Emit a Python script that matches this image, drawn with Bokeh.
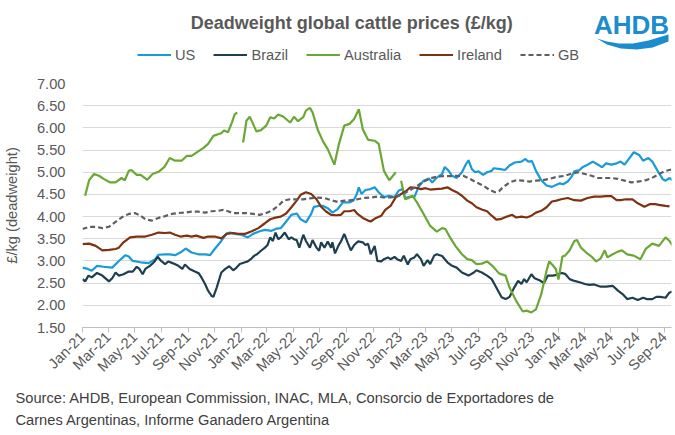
import math
import numpy as np
import pandas as pd
from bokeh.plotting import figure
from bokeh.layouts import column
from bokeh.models import (FixedTicker, DatetimeTickFormatter, PrintfTickFormatter,
                          Legend, LegendItem, Label, PolyAnnotation, Range1d, Title)
from bokeh.embed import file_html
from bokeh.resources import INLINE

# ---------------- data (x = months elapsed since 1 Jan 2021, y = £/kg) ----------------
us_month = [0, 0.4, 0.7, 1.1, 1.6, 2.25, 2.75, 3.25, 3.5, 3.8,
            4.4, 5.0, 5.5, 5.75, 6.25, 6.6, 7.0, 7.4, 7.8, 8.25,
            8.75, 9.3, 9.65, 10.0, 10.5, 10.9, 11.15, 11.5, 12.0, 12.5,
            12.9, 13.4, 13.8, 14.3, 14.7, 15.0, 15.3, 15.8, 16.2, 16.5,
            16.9, 17.3, 17.5, 17.9, 18.2, 18.55, 18.9, 19.3, 19.7, 20.2,
            20.5, 20.75, 20.9, 21.1, 21.4, 21.8, 22.1, 22.4, 22.8, 23.2,
            23.6, 23.9, 24.2, 24.4, 24.8, 25.1, 25.4, 25.8, 26.2, 26.45,
            26.8, 27.2, 27.4, 27.7, 27.95, 28.3, 28.7, 29.0, 29.2, 29.45,
            29.7, 29.95, 30.3, 30.6, 30.95, 31.1, 31.6, 31.95, 32.3, 32.7,
            33.2, 33.5, 33.7, 34.0, 34.3, 34.7, 35.1, 35.5, 35.85, 36.1,
            36.35, 36.7, 37.0, 37.2, 37.6, 37.85, 38.2, 38.6, 39.0, 39.3,
            39.6, 40.0, 40.4, 40.7, 41.0, 41.4, 41.7, 42.1, 42.4, 42.8,
            43.1, 43.5, 43.9, 44.1, 44.4, 44.65]
us_price = [2.85, 2.82, 2.78, 2.89, 2.87, 2.85, 3.00, 3.13, 3.10, 3.00,
            2.97, 2.95, 3.04, 3.14, 3.15, 3.15, 3.13, 3.19, 3.28, 3.19,
            3.15, 3.15, 3.13, 3.27, 3.45, 3.62, 3.64, 3.61, 3.59, 3.53,
            3.61, 3.67, 3.70, 3.68, 3.73, 3.74, 3.85, 4.04, 4.07, 3.94,
            3.87, 4.06, 4.22, 4.24, 4.24, 4.19, 4.09, 4.17, 4.32, 4.32,
            4.36, 4.51, 4.66, 4.51, 4.60, 4.62, 4.66, 4.55, 4.44, 4.47,
            4.44, 4.58, 4.62, 4.42, 4.45, 4.44, 4.66, 4.81, 4.86, 4.77,
            4.88, 4.96, 5.12, 5.03, 4.92, 4.87, 5.00, 5.18, 5.27, 5.07,
            5.00, 5.02, 4.94, 5.00, 5.03, 5.09, 5.07, 5.05, 5.15, 5.22,
            5.24, 5.30, 5.24, 5.25, 5.03, 4.82, 4.70, 4.67, 4.72, 4.75,
            4.73, 4.79, 4.90, 5.02, 5.05, 5.12, 5.17, 5.24, 5.17, 5.11,
            5.20, 5.17, 5.20, 5.24, 5.17, 5.33, 5.45, 5.39, 5.26, 5.32,
            5.24, 5.03, 4.84, 4.81, 4.87, 4.81]

brazil_month = [0, 0.2, 0.45, 0.7, 1.1, 1.5, 2.0, 2.25, 2.5, 2.75,
                3.1, 3.5, 3.8, 4.1, 4.3, 4.55, 4.75, 5.1, 5.4, 5.7,
                5.95, 6.25, 6.5, 6.9, 7.25, 7.55, 7.75, 8.1, 8.5, 8.8,
                9.05, 9.27, 9.5, 9.77, 9.9, 10.15, 10.5, 10.8, 11.1, 11.4,
                11.65, 11.9, 12.3, 12.5, 12.8, 13.0, 13.2, 13.5, 13.8, 14.0,
                14.2, 14.4, 14.6, 14.8, 15.0, 15.3, 15.6, 15.8, 16.0, 16.2,
                16.4, 16.7, 16.9, 17.2, 17.4, 17.7, 17.9, 18.05, 18.3, 18.55,
                18.8, 18.9, 19.1, 19.35, 19.55, 19.8, 20.05, 20.3, 20.55, 20.85,
                21.2, 21.4, 21.6, 21.8, 22.1, 22.3, 22.6, 22.8, 23.1, 23.3,
                23.6, 23.8, 24.1, 24.3, 24.6, 24.8, 25.1, 25.3, 25.6, 25.8,
                26.1, 26.3, 26.6, 26.8, 27.2, 27.6, 27.95, 28.3, 28.7, 29.2,
                29.6, 29.8, 30.2, 30.6, 30.95, 31.3, 31.7, 32.0, 32.3, 32.6,
                32.95, 33.2, 33.4, 33.6, 33.95, 34.2, 34.6, 34.9, 35.2, 35.6,
                36.0, 36.2, 36.5, 36.85, 37.2, 37.6, 38.0, 38.35, 38.7, 39.2,
                39.6, 40.1, 40.5, 40.9, 41.2, 41.6, 42.0, 42.4, 42.7, 43.1,
                43.4, 43.7, 44.1, 44.4, 44.65]
brazil_price = [2.59, 2.54, 2.67, 2.63, 2.73, 2.67, 2.54, 2.61, 2.74, 2.67,
                2.70, 2.76, 2.76, 2.87, 2.82, 2.70, 2.82, 2.89, 2.97, 3.09,
                3.00, 2.93, 2.99, 2.94, 2.89, 2.82, 2.92, 2.82, 2.76, 2.72,
                2.60, 2.48, 2.33, 2.21, 2.19, 2.40, 2.74, 2.82, 2.88, 2.79,
                2.85, 2.93, 2.97, 2.99, 3.06, 3.12, 3.15, 3.23, 3.30, 3.36,
                3.53, 3.45, 3.64, 3.49, 3.53, 3.64, 3.49, 3.53, 3.49, 3.47,
                3.30, 3.59, 3.45, 3.30, 3.47, 3.30, 3.23, 3.42, 3.30, 3.44,
                3.30, 3.42, 3.17, 3.34, 3.44, 3.61, 3.42, 3.24, 3.36, 3.44,
                3.42, 3.36, 3.39, 3.15, 3.34, 3.00, 2.99, 3.04, 3.08, 3.04,
                3.09, 3.04, 3.00, 3.12, 2.92, 3.04, 3.08, 3.15, 3.04, 2.89,
                3.02, 2.93, 3.12, 3.15, 3.11, 2.97, 2.89, 2.85, 2.74, 2.67,
                2.74, 2.79, 2.74, 2.67, 2.59, 2.40, 2.18, 2.14, 2.19, 2.37,
                2.55, 2.48, 2.59, 2.52, 2.70, 2.61, 2.56, 2.50, 2.67, 2.67,
                2.70, 2.73, 2.71, 2.59, 2.55, 2.52, 2.48, 2.46, 2.47, 2.42,
                2.42, 2.44, 2.33, 2.24, 2.14, 2.17, 2.12, 2.17, 2.14, 2.14,
                2.19, 2.19, 2.17, 2.29, 2.31]

# NaN marks the two breaks in the Australian series
australia_month = [0.2, 0.5, 0.875, 1.25, 1.6, 2.1, 2.5, 2.95, 3.2, 3.5,
                   3.7, 4.1, 4.4, 4.9, 5.3, 5.75, 6.2, 6.6, 7.0, 7.5,
                   7.9, 8.25, 8.7, 9.15, 9.5, 9.9, 10.3, 10.5, 10.7, 11.0,
                   11.3, 11.5, 11.7, 11.9, 12.15, 12.4, 12.65, 12.9, 13.15, 13.5,
                   13.9, 14.2, 14.5, 14.8, 15.2, 15.7, 16.0, 16.3, 16.7, 16.9,
                   17.2, 17.4, 17.8, 18.2, 18.55, 19.05, 19.4, 19.8, 20.2, 20.55,
                   20.9, 21.2, 21.6, 22.1, 22.4, 22.8, 23.2, 23.7, 23.9, 24.1,
                   24.4, 24.7, 24.95, 25.3, 25.8, 26.3, 26.8, 27.2, 27.45, 27.8,
                   28.2, 28.7, 29.1, 29.45, 29.8, 30.2, 30.6, 31.0, 31.5, 32.0,
                   32.3, 32.8, 33.3, 33.6, 33.95, 34.3, 34.7, 35.1, 35.3, 35.6,
                   35.8, 36.0, 36.3, 36.5, 36.85, 37.2, 37.4, 37.7, 38.1, 38.5,
                   38.85, 39.2, 39.5, 39.7, 40.1, 40.5, 40.8, 41.2, 41.7, 42.2,
                   42.6, 43.1, 43.6, 44.1, 44.4, 44.65]
australia_price = [4.47, 4.82, 4.96, 4.92, 4.85, 4.77, 4.77, 4.87, 4.82, 5.03,
                   5.05, 4.94, 4.94, 4.83, 4.96, 5.01, 5.12, 5.32, 5.26, 5.26,
                   5.37, 5.37, 5.46, 5.55, 5.64, 5.82, 5.86, 5.88, 5.94, 5.90,
                   6.12, 6.30, 6.35, float("nan"), 5.67, 6.16, 6.25, 6.09, 5.92, 5.95,
                   6.05, 6.24, 6.21, 6.30, 6.25, 6.12, 6.25, 6.15, 6.24, 6.39,
                   6.45, 6.35, 5.95, 5.69, 5.52, 5.17, 5.64, 6.05, 6.09, 6.20,
                   6.42, 5.97, 5.73, 5.71, 5.64, 5.03, 4.82, 5.00, float("nan"), 4.81,
                   4.39, 4.42, 4.47, 4.32, 4.06, 3.79, 3.66, 3.74, 3.72, 3.53,
                   3.34, 3.15, 3.04, 3.02, 2.93, 2.94, 2.99, 2.89, 2.72, 2.67,
                   2.40, 2.10, 1.86, 1.88, 1.84, 1.91, 2.25, 2.78, 2.99, 2.89,
                   2.82, 2.58, 3.10, 3.12, 3.24, 3.45, 3.47, 3.30, 3.19, 3.10,
                   2.99, 3.06, 3.24, 3.08, 3.15, 3.21, 3.24, 3.15, 3.12, 3.04,
                   3.27, 3.39, 3.34, 3.53, 3.45, 3.34]

ireland_month = [0, 0.5, 1.0, 1.5, 2.0, 2.5, 2.75, 3.1, 3.6, 4.1,
                 4.75, 5.25, 5.75, 6.25, 6.6, 7.0, 7.4, 7.9, 8.25, 8.6,
                 9.15, 9.5, 10.0, 10.5, 10.9, 11.4, 11.8, 12.3, 12.8, 13.3,
                 13.8, 14.2, 14.5, 15.0, 15.4, 15.8, 16.2, 16.5, 16.9, 17.3,
                 17.7, 18.05, 18.4, 18.8, 19.2, 19.55, 19.8, 20.2, 20.55, 20.8,
                 21.2, 21.6, 21.8, 22.2, 22.6, 22.9, 23.3, 23.7, 24.1, 24.4,
                 24.8, 25.2, 25.6, 25.95, 26.3, 26.7, 27.2, 27.6, 27.95, 28.3,
                 28.7, 29.1, 29.45, 29.8, 30.2, 30.6, 30.95, 31.3, 31.7, 32.1,
                 32.5, 32.8, 33.2, 33.6, 33.95, 34.3, 34.7, 35.1, 35.5, 35.85,
                 36.2, 36.7, 37.2, 37.7, 38.2, 38.7, 39.2, 39.6, 40.0, 40.4,
                 40.7, 41.1, 41.6, 42.0, 42.5, 42.9, 43.3, 43.7, 44.1, 44.4]
ireland_price = [3.38, 3.39, 3.34, 3.24, 3.25, 3.27, 3.30, 3.42, 3.53, 3.55,
                 3.55, 3.59, 3.64, 3.63, 3.64, 3.59, 3.55, 3.57, 3.55, 3.57,
                 3.52, 3.55, 3.55, 3.51, 3.61, 3.63, 3.61, 3.61, 3.67, 3.74,
                 3.85, 3.94, 3.97, 4.00, 4.07, 4.21, 4.36, 4.49, 4.55, 4.51,
                 4.39, 4.22, 4.12, 4.04, 4.03, 4.04, 4.12, 4.12, 4.15, 4.06,
                 3.97, 3.91, 3.89, 3.97, 4.02, 4.15, 4.24, 4.44, 4.51, 4.56,
                 4.66, 4.65, 4.62, 4.64, 4.61, 4.62, 4.63, 4.66, 4.60, 4.55,
                 4.47, 4.36, 4.30, 4.21, 4.16, 4.12, 4.02, 3.93, 3.95, 4.00,
                 4.04, 3.98, 4.00, 3.98, 4.02, 4.09, 4.13, 4.21, 4.34, 4.36,
                 4.39, 4.42, 4.37, 4.36, 4.42, 4.45, 4.45, 4.46, 4.46, 4.37,
                 4.37, 4.39, 4.39, 4.30, 4.22, 4.28, 4.28, 4.26, 4.24, 4.23]

gb_month = [0, 0.5, 1.0, 1.5, 2.0, 2.5, 3.0, 3.5, 3.95, 4.4,
            4.75, 5.25, 5.75, 6.25, 6.75, 7.25, 7.75, 8.25, 8.75, 9.27,
            9.77, 10.27, 10.65, 11.0, 11.4, 11.9, 12.4, 12.9, 13.4, 13.8,
            14.3, 14.8, 15.2, 15.7, 16.2, 16.7, 17.2, 17.7, 18.3, 18.8,
            19.3, 19.8, 20.3, 20.8, 21.3, 21.8, 22.3, 22.8, 23.3, 23.8,
            24.3, 24.8, 25.3, 25.8, 26.3, 26.8, 27.3, 27.8, 28.3, 28.8,
            29.3, 29.8, 30.3, 30.8, 31.2, 31.5, 31.8, 32.3, 32.8, 33.3,
            33.8, 34.3, 34.8, 35.3, 35.8, 36.5, 37.0, 37.5, 38.0, 38.5,
            39.0, 39.5, 40.0, 40.5, 41.0, 41.5, 42.0, 42.5, 43.0, 43.5,
            44.0, 44.65]
gb_price = [3.72, 3.77, 3.77, 3.74, 3.77, 3.88, 3.99, 4.06, 4.08, 4.02,
            3.94, 3.91, 3.97, 4.01, 4.06, 4.08, 4.09, 4.11, 4.11, 4.09,
            4.12, 4.13, 4.15, 4.12, 4.08, 4.08, 4.08, 4.06, 4.04, 4.07,
            4.13, 4.24, 4.36, 4.39, 4.39, 4.39, 4.41, 4.43, 4.42, 4.37,
            4.33, 4.36, 4.37, 4.39, 4.42, 4.43, 4.45, 4.43, 4.43, 4.45,
            4.52, 4.60, 4.69, 4.79, 4.86, 4.90, 4.91, 4.91, 4.92, 4.92,
            4.85, 4.77, 4.70, 4.60, 4.55, 4.57, 4.66, 4.77, 4.82, 4.81,
            4.79, 4.81, 4.82, 4.85, 4.89, 4.92, 4.97, 5.00, 4.96, 4.92,
            4.87, 4.87, 4.87, 4.85, 4.81, 4.77, 4.79, 4.81, 4.86, 4.94,
            5.02, 5.07]

series_names = ["US", "Brazil", "Australia", "Ireland", "GB"]
y_ticks = [1.5, 2.0, 2.5, 3.0, 3.5, 4.0, 4.5, 5.0, 5.5, 6.0, 6.5, 7.0]
x_tick_dates = pd.date_range("2021-01-01", "2024-09-01", freq="2MS")

title_text = "Deadweight global cattle prices (£/kg)"
y_label = "£/kg (deadweight)"
source_lines = ["Source: AHDB, European Commission, INAC, MLA, Consorcio de Exportadores de",
                "Carnes Argentinas, Informe Ganadero Argentina"]

# ---------------- styling ----------------
BASE = pd.Timestamp("2021-01-01")
def to_dates(months):
    return [BASE + pd.Timedelta(days=float(m) * 30.4375) for m in months]

FONT = "Liberation Sans"
GREY = "#595959"
W = 675
HEAD_H, MAIN_H = 75, 360
LEFT, RIGHT, TOP = 78, 4, 8
FRAME_H = 244
BOTTOM = MAIN_H - TOP - FRAME_H

styles = [dict(line_color="#1A9AD6", line_width=2.2),
          dict(line_color="#1E3F4F", line_width=2.2),
          dict(line_color="#6BA737", line_width=2.2),
          dict(line_color="#7F3113", line_width=2.2),
          dict(line_color="#5F5F5F", line_width=2.2, line_dash="5 3")]

# ---- main chart ----
p = figure(width=W, height=MAIN_H, x_axis_type="datetime", output_backend="svg",
           toolbar_location=None,
           x_range=Range1d(BASE, pd.Timestamp("2024-09-18")),
           y_range=Range1d(1.5, 7.0),
           min_border_left=LEFT, min_border_right=RIGHT,
           min_border_top=TOP, min_border_bottom=BOTTOM)
p.outline_line_color = None
p.background_fill_color = "white"
p.border_fill_color = "white"
p.xgrid.visible = False
p.ygrid.grid_line_color = "#D9D9D9"
p.ygrid.grid_line_width = 1

p.yaxis.ticker = FixedTicker(ticks=y_ticks)
p.yaxis.formatter = PrintfTickFormatter(format="%.2f")
p.yaxis.axis_line_color = None
p.yaxis.major_tick_line_color = None
p.yaxis.minor_tick_line_color = None
p.yaxis.major_label_standoff = 11
p.yaxis.major_label_text_font = FONT
p.yaxis.major_label_text_font_size = "14.67px"
p.yaxis.major_label_text_color = GREY
p.yaxis.axis_label = y_label
p.yaxis.axis_label_standoff = 14
p.yaxis.axis_label_text_font = FONT
p.yaxis.axis_label_text_font_size = "14.67px"
p.yaxis.axis_label_text_font_style = "normal"
p.yaxis.axis_label_text_color = GREY

p.xaxis.ticker = FixedTicker(ticks=[t.value / 1e6 for t in x_tick_dates])
p.xaxis.formatter = DatetimeTickFormatter(days="%b-%y", months="%b-%y", years="%b-%y")
p.xaxis.major_label_orientation = math.pi / 4
p.xaxis.axis_line_color = "#BFBFBF"
p.xaxis.major_tick_line_color = "#BFBFBF"
p.xaxis.major_tick_out = 5
p.xaxis.major_tick_in = 0
p.xaxis.minor_tick_line_color = None
p.xaxis.major_label_standoff = 2
p.xaxis.major_label_text_font = FONT
p.xaxis.major_label_text_font_size = "14.67px"
p.xaxis.major_label_text_color = GREY

all_series = [(us_month, us_price), (brazil_month, brazil_price),
              (australia_month, australia_price), (ireland_month, ireland_price),
              (gb_month, gb_price)]
for (mx, vy), st in zip(all_series, styles):
    p.line(to_dates(mx), vy, **st)

# source note, below the axis
for i, line in enumerate(source_lines):
    p.add_layout(Title(text=line, align="left", offset=11 - LEFT,
                       text_font=FONT, text_font_size="14.67px", text_font_style="normal",
                       text_color="#404040", standoff=(8 if i == 0 else 1)), "below")

# ---- header: title, legend, logo (frame is aligned with the chart's: x 78..671) ----
head = figure(width=W, height=HEAD_H, output_backend="svg", toolbar_location=None,
              x_range=Range1d(LEFT, W - RIGHT), y_range=Range1d(HEAD_H, 0),
              x_axis_location=None, y_axis_location=None,
              min_border_left=LEFT, min_border_right=RIGHT,
              min_border_top=0, min_border_bottom=0)
head.outline_line_color = None
head.grid.visible = False
head.background_fill_color = "white"
head.border_fill_color = "white"

head.add_layout(Label(x=349, y=22, text=title_text, text_font=FONT, text_align="center",
                      text_baseline="middle", text_font_size="18px",
                      text_font_style="bold", text_color=GREY))
key_renderers = [head.line([100, 101], [-50, -50], **st) for st in styles]
legend = Legend(items=[LegendItem(label=n, renderers=[r]) for n, r in zip(series_names, key_renderers)],
                orientation="horizontal", location=(133 - LEFT, 12),
                border_line_color=None, background_fill_alpha=0,
                padding=0, margin=0, spacing=18, glyph_width=34, glyph_height=17,
                label_standoff=4, label_text_font=FONT, label_text_font_size="14.67px",
                label_text_color=GREY, label_height=17)
head.add_layout(legend)

LOGO_BLUE = "#1B8DCF"
head.add_layout(Label(x=593, y=9, text="AHDB", text_font=FONT, text_align="left",
                      text_baseline="top", text_font_size="26px", text_font_style="bold",
                      text_color=LOGO_BLUE))
head.add_layout(PolyAnnotation(xs=[596, 606, 618, 632, 648, 668, 668, 652, 636, 620, 606],
                               ys=[38, 41, 43, 43, 40, 34, 41, 47, 49, 48, 44],
                               fill_color=LOGO_BLUE, fill_alpha=1, line_color=None))

page = column(head, p, spacing=0)
open("out.html", "w").write(file_html(page, INLINE))
